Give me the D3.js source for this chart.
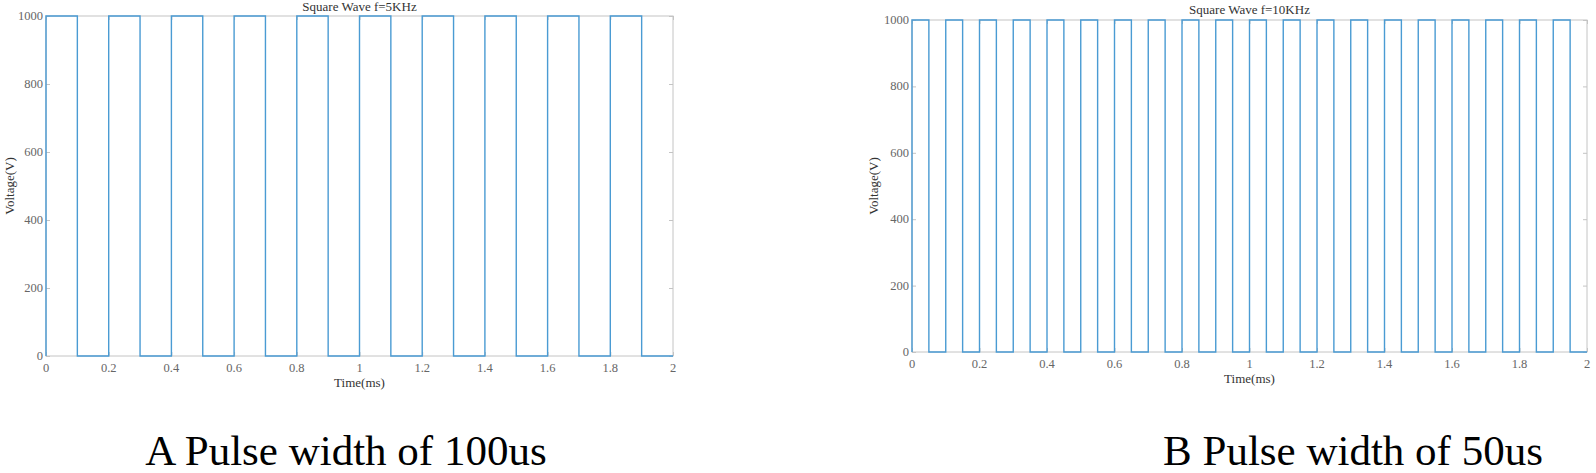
<!DOCTYPE html>
<meta charset="utf-8">
<style>
  body { margin: 0; background: #fff; }
  svg text { font-family: 'Liberation Serif', 'Times New Roman', serif; }
</style>
<script src="https://d3js.org/d3.v7.min.js"></script>
<div id="chart"></div>
<script>

// switching times (ms) and voltage level held after each time
var timeA = [0, 0, 0.1, 0.2, 0.3, 0.4, 0.5, 0.6, 0.7, 0.8, 0.9, 1.0,
             1.1, 1.2, 1.3, 1.4, 1.5, 1.6, 1.7, 1.8, 1.9, 2.0];
var voltA = [0, 1000, 0, 1000, 0, 1000, 0, 1000, 0, 1000, 0, 1000,
             0, 1000, 0, 1000, 0, 1000, 0, 1000, 0, 0];

var timeB = [0, 0, 0.05, 0.1, 0.15, 0.2, 0.25, 0.3, 0.35, 0.4, 0.45, 0.5,
             0.55, 0.6, 0.65, 0.7, 0.75, 0.8, 0.85, 0.9, 0.95, 1.0,
             1.05, 1.1, 1.15, 1.2, 1.25, 1.3, 1.35, 1.4, 1.45, 1.5,
             1.55, 1.6, 1.65, 1.7, 1.75, 1.8, 1.85, 1.9, 1.95, 2.0];
var voltB = [0, 1000, 0, 1000, 0, 1000, 0, 1000, 0, 1000, 0, 1000,
             0, 1000, 0, 1000, 0, 1000, 0, 1000, 0, 1000,
             0, 1000, 0, 1000, 0, 1000, 0, 1000, 0, 1000,
             0, 1000, 0, 1000, 0, 1000, 0, 1000, 0, 0];

var xTicks = [0, 0.2, 0.4, 0.6, 0.8, 1, 1.2, 1.4, 1.6, 1.8, 2];
var yTicks = [0, 200, 400, 600, 800, 1000];

var svg = d3.select("#chart").append("svg")
    .attr("width", 1596)
    .attr("height", 473);

function panel(opt) {
  var x = d3.scaleLinear().domain([0, 2]).range([opt.left, opt.right]);
  var y = d3.scaleLinear().domain([0, 1000]).range([opt.bottom, opt.top]);
  var g = svg.append("g");
  var gray = "#c4c4c4";

  // box
  g.append("rect")
    .attr("x", opt.left).attr("y", opt.top)
    .attr("width", opt.right - opt.left).attr("height", opt.bottom - opt.top)
    .attr("fill", "none").attr("stroke", gray).attr("stroke-width", 1);

  // inside ticks on all four sides
  var tl = 4;
  g.append("g").attr("transform", "translate(0," + opt.bottom + ")")
    .call(d3.axisTop(x).tickValues(xTicks).tickSize(tl).tickFormat(""));
  g.append("g").attr("transform", "translate(0," + opt.top + ")")
    .call(d3.axisBottom(x).tickValues(xTicks).tickSize(tl).tickFormat(""));
  g.append("g").attr("transform", "translate(" + opt.left + ",0)")
    .call(d3.axisRight(y).tickValues(yTicks).tickSize(tl).tickFormat(""));
  g.append("g").attr("transform", "translate(" + opt.right + ",0)")
    .call(d3.axisLeft(y).tickValues(yTicks).tickSize(tl).tickFormat(""));
  g.selectAll(".domain").remove();
  g.selectAll(".tick line").attr("stroke", gray);

  // tick labels
  g.selectAll(".xl").data(xTicks).enter().append("text")
    .attr("x", function(d) { return x(d); })
    .attr("y", opt.bottom + 16)
    .attr("text-anchor", "middle")
    .attr("font-size", 12.5)
    .attr("fill", "#666")
    .text(function(d) { return String(+d.toFixed(1)); });
  g.selectAll(".yl").data(yTicks).enter().append("text")
    .attr("x", opt.left - 3)
    .attr("y", function(d) { return y(d) + 4; })
    .attr("text-anchor", "end")
    .attr("font-size", 12.5)
    .attr("fill", "#666")
    .text(function(d) { return d; });

  // wave
  var pts = opt.t.map(function(t, i) { return [t, opt.v[i]]; });
  var line = d3.line()
    .x(function(d) { return x(d[0]); })
    .y(function(d) { return y(d[1]); })
    .curve(d3.curveStepAfter);
  g.append("path")
    .attr("d", line(pts))
    .attr("fill", "none")
    .attr("stroke", "#4a9bd3")
    .attr("stroke-width", 1.4);

  // titles
  g.append("text")
    .attr("x", (opt.left + opt.right) / 2).attr("y", opt.titleY)
    .attr("text-anchor", "middle").attr("font-size", 13).attr("fill", "#333")
    .text(opt.title);
  g.append("text")
    .attr("x", (opt.left + opt.right) / 2).attr("y", opt.bottom + 31)
    .attr("text-anchor", "middle").attr("font-size", 13).attr("fill", "#333")
    .text("Time(ms)");
  g.append("text")
    .attr("transform", "translate(" + opt.ylabX + "," + (opt.top + opt.bottom) / 2 + ") rotate(-90)")
    .attr("text-anchor", "middle").attr("font-size", 13).attr("fill", "#333")
    .text("Voltage(V)");

  // caption
  g.append("text")
    .attr("x", opt.capX).attr("y", 465)
    .attr("text-anchor", "middle").attr("font-size", 43).attr("fill", "#000")
    .text(opt.caption);
}

panel({left: 46, right: 673, top: 16, bottom: 356, titleY: 11, ylabX: 14,
       t: timeA, v: voltA, title: "Square Wave f=5KHz",
       caption: "A Pulse width of 100us", capX: 346});
panel({left: 912, right: 1587, top: 20, bottom: 352, titleY: 14, ylabX: 878,
       t: timeB, v: voltB, title: "Square Wave f=10KHz",
       caption: "B Pulse width of 50us", capX: 1353});

</script>
